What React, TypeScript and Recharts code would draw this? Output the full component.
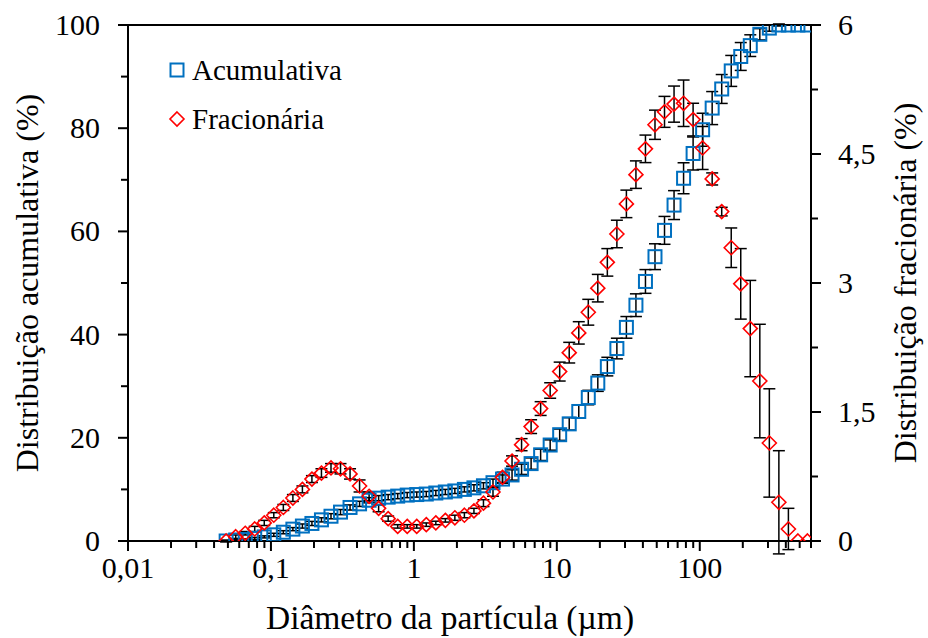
import React from "react";
import {
  ScatterChart,
  Scatter,
  XAxis,
  YAxis,
  ErrorBar,
  ReferenceLine,
  Legend,
} from "recharts";

// particle diameter (µm), log-spaced measurement channels
const diameters = [
  0.0486, 0.0567, 0.0661, 0.077, 0.0898, 0.1047, 0.1221, 0.1424, 0.166, 0.1935,
  0.2256, 0.2631, 0.3067, 0.3576, 0.4169, 0.4861, 0.5667, 0.6608, 0.7704, 0.8982,
  1.047, 1.221, 1.424, 1.66, 1.935, 2.256, 2.631, 3.067, 3.576, 4.169,
  4.861, 5.667, 6.608, 7.704, 8.982, 10.47, 12.21, 14.24, 16.6, 19.35,
  22.56, 26.31, 30.67, 35.76, 41.69, 48.61, 56.67, 66.08, 77.04, 89.82,
  104.7, 122.1, 142.4, 166.0, 193.5, 225.6, 263.1, 306.7, 357.6, 416.9,
  486.1, 566.7,
];

// cumulative distribution (%), left axis
const cumulative = [
  0, 0.2, 0.3, 0.5, 0.8, 1.2, 1.7, 2.3, 2.9, 3.4,
  4.1, 4.8, 5.6, 6.5, 7.2, 7.9, 8.3, 8.5, 8.7, 8.9,
  9.0, 9.1, 9.3, 9.5, 9.7, 10.0, 10.3, 10.7, 11.3, 12.0,
  12.8, 13.9, 15.0, 16.7, 18.6, 20.6, 22.7, 25.1, 27.8, 30.6,
  33.8, 37.3, 41.4, 45.7, 50.3, 55.1, 60.2, 65.1, 70.3, 75.1,
  79.7, 83.9, 87.6, 91.1, 93.9, 96.0, 98.2, 99.4, 100, 100,
  100, 100,
];
const cumulativeErr = [
  0.1, 0.1, 0.1, 0.2, 0.2, 0.3, 0.3, 0.3, 0.4, 0.4,
  0.4, 0.5, 0.5, 0.5, 0.5, 0.5, 0.5, 0.5, 0.5, 0.5,
  0.5, 0.5, 0.5, 0.5, 0.5, 0.5, 0.6, 0.6, 0.7, 0.8,
  1.0, 1.0, 1.1, 1.1, 1.0, 1.1, 1.2, 1.3, 1.4, 1.6,
  1.8, 2.0, 2.1, 2.2, 2.3, 2.5, 2.7, 2.8, 3.0, 3.2,
  3.2, 3.2, 2.8, 3.0, 2.7, 2.1, 1.1, 0.6, 0.2, 0,
  0, 0,
];

// fractional distribution (%), right axis
const fractional = [
  0, 0.05, 0.09, 0.14, 0.21, 0.3, 0.39, 0.5, 0.6, 0.72,
  0.79, 0.85, 0.84, 0.78, 0.64, 0.52, 0.38, 0.26, 0.17, 0.17,
  0.17, 0.19, 0.21, 0.24, 0.27, 0.3, 0.35, 0.44, 0.57, 0.74,
  0.93, 1.12, 1.33, 1.54, 1.75, 1.97, 2.19, 2.42, 2.66, 2.94,
  3.24, 3.57, 3.92, 4.26, 4.56, 4.84, 4.99, 5.08, 5.09, 4.9,
  4.57, 4.21, 3.83, 3.41, 2.99, 2.47, 1.86, 1.14, 0.45, 0.14,
  0, 0,
];
const fractionalErr = [
  0.01, 0.02, 0.02, 0.03, 0.03, 0.03, 0.035, 0.04, 0.04, 0.04,
  0.05, 0.05, 0.06, 0.06, 0.07, 0.05, 0.04, 0.03, 0.02, 0.02,
  0.02, 0.02, 0.02, 0.02, 0.03, 0.03, 0.03, 0.04, 0.05, 0.06,
  0.06, 0.07, 0.08, 0.08, 0.09, 0.11, 0.12, 0.13, 0.15, 0.16,
  0.16, 0.16, 0.16, 0.16, 0.16, 0.17, 0.18, 0.21, 0.27, 0.19,
  0.25, 0.07, 0.05, 0.23, 0.41, 0.56, 0.66, 0.63, 0.6, 0.24,
  0, 0,
];

const xDecades = [0.01, 0.1, 1, 10, 100];
const xDecadeLabels = ["0,01", "0,1", "1", "10", "100"];
const xMinorSteps = [2, 3, 4, 5, 6, 7, 8, 9];
const xMax = 600;

const leftTicks = [0, 10, 20, 30, 40, 50, 60, 70, 80, 90, 100];
const leftLabels = ["0", "", "20", "", "40", "", "60", "", "80", "", "100"];
const rightTicks = [0, 0.75, 1.5, 2.25, 3, 3.75, 4.5, 5.25, 6];
const rightLabels = ["0", "", "1,5", "", "3", "", "4,5", "", "6"];

const xTicks: number[] = [];
xDecades.forEach((m) => {
  xTicks.push(m);
  xMinorSteps.forEach((s) => {
    const v = +(m * s).toPrecision(6);
    if (v <= xMax) xTicks.push(v);
  });
});

const data = diameters.map((d, i) => ({
  d,
  cum: cumulative[i],
  cumErr: cumulativeErr[i],
  frac: fractional[i],
  fracErr: fractionalErr[i],
}));

const FONT = "'Liberation Serif', 'Times New Roman', serif";
const BLUE = "#0070C0";
const RED = "#FF0000";

const XTick = (props: any) => {
  const { x, y, payload } = props;
  const idx = xDecades.indexOf(payload.value);
  const major = idx >= 0;
  return (
    <g>
      <line x1={x} x2={x} y1={y} y2={y + (major ? 10 : 7)} stroke="#000" strokeWidth={2} />
      {major && (
        <text x={x} y={y + 37} textAnchor="middle" fontSize={30} fontFamily={FONT} fill="#000">
          {xDecadeLabels[idx]}
        </text>
      )}
    </g>
  );
};

const LeftTick = (props: any) => {
  const { x, y, payload } = props;
  const label = leftLabels[leftTicks.indexOf(payload.value)] ?? "";
  return (
    <g>
      <line x1={x - (label ? 10 : 7)} x2={x} y1={y} y2={y} stroke="#000" strokeWidth={2} />
      {label && (
        <text x={x - 28} y={y} dy="0.33em" textAnchor="end" fontSize={30} fontFamily={FONT} fill="#000">
          {label}
        </text>
      )}
    </g>
  );
};

const RightTick = (props: any) => {
  const { x, y, payload } = props;
  const label = rightLabels[rightTicks.indexOf(payload.value)] ?? "";
  return (
    <g>
      <line x1={x} x2={x + (label ? 10 : 7)} y1={y} y2={y} stroke="#000" strokeWidth={2} />
      {label && (
        <text x={x + 27} y={y} dy="0.33em" textAnchor="start" fontSize={30} fontFamily={FONT} fill="#000">
          {label}
        </text>
      )}
    </g>
  );
};

const Square = ({ cx, cy }: any) => (
  <rect x={cx - 6.5} y={cy - 6.5} width={13} height={13} fill="none" stroke={BLUE} strokeWidth={2} />
);

const Diamond = ({ cx, cy }: any) => (
  <polygon
    points={`${cx},${cy - 7} ${cx + 7},${cy} ${cx},${cy + 7} ${cx - 7},${cy}`}
    fill="none"
    stroke={RED}
    strokeWidth={1.6}
  />
);

const LegendBox = () => (
  <svg width={220} height={100}>
    <Square cx={17} cy={20} />
    <text x={32} y={30} fontSize={29} fontFamily={FONT} fill="#000">
      Acumulativa
    </text>
    <Diamond cx={17} cy={69} />
    <text x={32} y={79} fontSize={29} fontFamily={FONT} fill="#000">
      Fracionária
    </text>
  </svg>
);

const XTitle = () => (
  <text x={450} y={629} textAnchor="middle" fontSize={33.5} fontFamily={FONT} fill="#000">
    Diâmetro da partícula (µm)
  </text>
);

export default function App() {
  return (
    <div style={{ position: "absolute", left: 0, top: 0, width: 928, height: 638, background: "#fff" }}>
      <ScatterChart width={928} height={638} margin={{ top: 25, right: 0, bottom: 0, left: 0 }}>
        <XAxis
          dataKey="d"
          type="number"
          scale="log"
          domain={[0.01, xMax]}
          allowDataOverflow
          ticks={xTicks}
          interval={0}
          tick={XTick}
          tickLine={false}
          tickSize={0}
          tickMargin={0}
          height={97}
          axisLine={{ stroke: "#000", strokeWidth: 2 }}
          label={{ content: XTitle }}
        />
        <YAxis
          yAxisId="left"
          dataKey="cum"
          type="number"
          domain={[0, 100]}
          allowDataOverflow
          ticks={leftTicks}
          interval={0}
          tick={LeftTick}
          tickLine={false}
          tickSize={0}
          tickMargin={0}
          width={128}
          axisLine={{ stroke: "#000", strokeWidth: 2 }}
          label={{
            value: "Distribuição acumulativa (%)",
            angle: -90,
            position: "insideLeft",
            offset: 27,
            style: { fontSize: 32, fontFamily: FONT, fill: "#000", textAnchor: "middle" },
          }}
        />
        <YAxis
          yAxisId="right"
          orientation="right"
          dataKey="frac"
          type="number"
          domain={[0, 6]}
          allowDataOverflow
          ticks={rightTicks}
          interval={0}
          tick={RightTick}
          tickLine={false}
          tickSize={0}
          tickMargin={0}
          width={117}
          axisLine={{ stroke: "#000", strokeWidth: 2 }}
          label={{
            value: "Distribuição fracionária (%)",
            angle: -90,
            position: "insideRight",
            offset: 23,
            style: { fontSize: 32, fontFamily: FONT, fill: "#000", textAnchor: "middle" },
          }}
        />
        <ReferenceLine yAxisId="left" y={100} stroke="#000" strokeWidth={2} />
        <Scatter
          name="Acumulativa"
          data={data}
          yAxisId="left"
          dataKey="cum"
          shape={Square}
          isAnimationActive={false}
        >
          <ErrorBar dataKey="cumErr" direction="y" width={6} stroke="#000" strokeWidth={1.5} />
        </Scatter>
        <Scatter
          name="Fracionária"
          data={data}
          yAxisId="right"
          dataKey="frac"
          shape={Diamond}
          isAnimationActive={false}
        >
          <ErrorBar dataKey="fracErr" direction="y" width={6} stroke="#000" strokeWidth={1.5} />
        </Scatter>
        <Legend
          layout="horizontal"
          align="center"
          verticalAlign="middle"
          content={() => <LegendBox />}
          wrapperStyle={{ left: 160, top: 50, width: 220, height: 100 }}
        />
      </ScatterChart>
    </div>
  );
}
